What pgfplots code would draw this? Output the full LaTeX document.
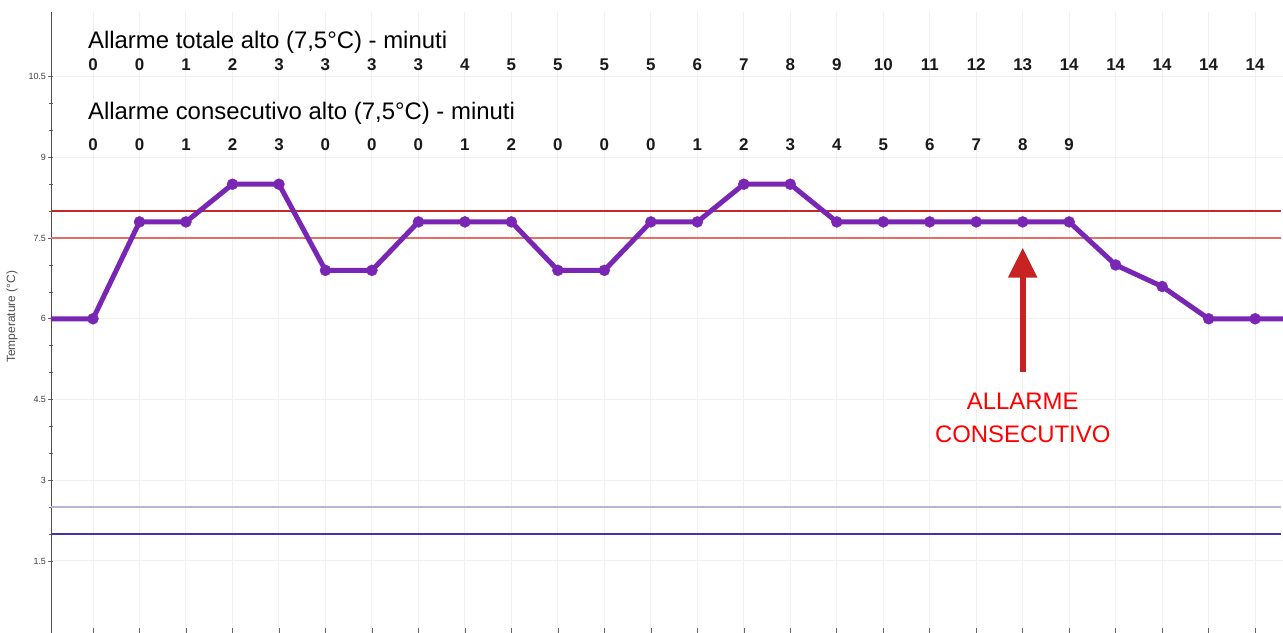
\documentclass[border=0pt]{standalone}
\usepackage{fontspec}
\setmainfont{Liberation Sans}
\usepackage{pgfplots}
\usepackage{pgfplotstable}
\pgfplotsset{compat=1.18}
\usetikzlibrary{arrows.meta}
\definecolor{purp}{RGB}{122,38,180}
\definecolor{redA}{RGB}{196,40,40}
\definecolor{redB}{RGB}{228,110,100}
\definecolor{blueA}{RGB}{70,50,170}
\definecolor{blueB}{RGB}{182,180,215}
\definecolor{arrowred}{RGB}{200,35,35}

\pgfplotstableread{
idx temp tot
-1 6.0 0
0 6.0 0
1 7.8 0
2 7.8 1
3 8.5 2
4 8.5 3
5 6.9 3
6 6.9 3
7 7.8 3
8 7.8 4
9 7.8 5
10 6.9 5
11 6.9 5
12 7.8 5
13 7.8 6
14 8.5 7
15 8.5 8
16 7.8 9
17 7.8 10
18 7.8 11
19 7.8 12
20 7.8 13
21 7.8 14
22 7.0 14
23 6.6 14
24 6.0 14
25 6.0 14
26 6.0 14
}\temps

\pgfplotstableread{
idx cons
0 0
1 0
2 1
3 2
4 3
5 0
6 0
7 0
8 1
9 2
10 0
11 0
12 0
13 1
14 2
15 3
16 4
17 5
18 6
19 7
20 8
21 9
}\consec

\begin{document}
\begin{tikzpicture}
\useasboundingbox (0,0) rectangle (1283bp,633bp);
\begin{axis}[
  at={(51bp,0bp)}, anchor=south west,
  scale only axis, width=1232bp, height=621bp,
  xmin=-0.904, xmax=25.60, ymin=0.162, ymax=11.70,
  axis x line=bottom, axis y line=left,
  x axis line style={draw=none},
  y axis line style={draw=black!70, line width=0.9pt, -},
  xtick={0,...,25}, xticklabels={},
  ytick={1.5,3,4.5,6,7.5,9,10.5},
  minor y tick num=2,
  /pgf/number format/assume math mode=true,
  yticklabel style={font=\fontsize{9}{9}\selectfont, text=black!75, xshift=1bp},
  tick align=center,
  xtick align=inside,
  major tick length=5bp, minor tick length=4bp,
  tick style={black!60, line width=0.6pt},
  grid=major,
  major grid style={black!6, line width=1pt},
  ylabel={Temperature (°C)},
  ylabel style={at={(axis description cs:-0.0317,0.509)}, anchor=center,
    font=\fontsize{12}{12}\selectfont, text=black!70},
  clip=true,
]
% reference lines
\addplot[redA, line width=2.6bp, forget plot] coordinates {(-0.904,8.0) (25.55,8.0)};
\addplot[redB, line width=1.4bp, forget plot] coordinates {(-0.904,7.5) (25.55,7.5)};
\addplot[blueB, line width=2.6bp, forget plot] coordinates {(-0.904,2.5) (25.55,2.5)};
\addplot[blueA, line width=2.6bp, forget plot] coordinates {(-0.904,2.0) (25.55,2.0)};
% temperature
\addplot[purp, line width=5bp, mark=none, line join=round] table[x=idx, y=temp] {\temps};
\addplot[purp, only marks, mark=*, mark size=5.5bp,
  skip coords between index={0}{1}, skip coords between index={27}{28}]
  table[x=idx, y=temp] {\temps};
% header rows
\addplot[draw=none, mark=none, point meta=explicit symbolic,
  nodes near coords,
  every node near coord/.append style={anchor=center, font=\bfseries\fontsize{17}{17}\selectfont, text=black!90}]
  table[x=idx, y expr=10.72, meta=tot, skip coords between index={0}{1}, skip coords between index={27}{28}] {\temps};
\addplot[draw=none, mark=none, point meta=explicit symbolic,
  nodes near coords,
  every node near coord/.append style={anchor=center, font=\bfseries\fontsize{17}{17}\selectfont, text=black!90}]
  table[x=idx, y expr=9.23, meta=cons] {\consec};
\node[anchor=base west, font=\fontsize{24}{24}\selectfont, inner sep=0pt] at (axis cs:-0.11,11.03) {Allarme totale alto (7,5°C) - minuti};
\node[anchor=base west, font=\fontsize{24}{24}\selectfont, inner sep=0pt] at (axis cs:-0.11,9.70) {Allarme consecutivo alto (7,5°C) - minuti};
% annotation
\draw[arrowred, line width=6bp, -{Triangle[width=28bp,length=30bp]}] (axis cs:20,5.01) -- (axis cs:20,7.32);
\node[text=red, font=\fontsize{24}{33}\selectfont, align=center] at (axis cs:20,4.16) {ALLARME\\CONSECUTIVO};
\end{axis}
\end{tikzpicture}
\end{document}
